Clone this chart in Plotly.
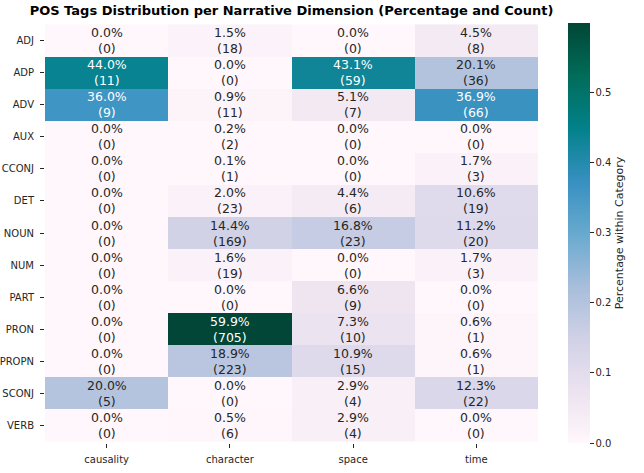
import plotly.graph_objects as go

tags = ["ADJ", "ADP", "ADV", "AUX", "CCONJ", "DET", "NOUN", "NUM", "PART", "PRON", "PROPN", "SCONJ", "VERB"]
dims = ["causality", "character", "space", "time"]

counts_causality = [0, 11, 9, 0, 0, 0, 0, 0, 0, 0, 0, 5, 0]
counts_character = [18, 0, 11, 2, 1, 23, 169, 19, 0, 705, 223, 0, 6]
counts_space = [0, 59, 7, 0, 0, 6, 23, 0, 9, 10, 15, 4, 4]
counts_time = [8, 36, 66, 0, 3, 19, 20, 3, 0, 1, 1, 22, 0]

cols = [counts_causality, counts_character, counts_space, counts_time]
pcts = [[c / sum(col) for c in col] for col in cols]

z = [[pcts[j][i] for j in range(len(dims))] for i in range(len(tags))]
cnt = [[cols[j][i] for j in range(len(dims))] for i in range(len(tags))]
zmax = max(max(r) for r in z)

colorscale = [
    [0.0, "#fff7fb"], [0.125, "#ece2f0"], [0.25, "#d0d1e6"], [0.375, "#a6bddb"],
    [0.5, "#67a9cf"], [0.625, "#3690c0"], [0.75, "#02818a"], [0.875, "#016c59"], [1.0, "#014636"],
]

fig = go.Figure(go.Heatmap(
    z=z, x=dims, y=tags, colorscale=colorscale, zmin=0, zmax=zmax,
    xgap=0, ygap=0, hoverinfo="skip",
    colorbar=dict(
        thickness=22, len=1.0, lenmode="fraction", x=1.061, xanchor="left", xpad=0,
        y=0.5, yanchor="middle", ypad=0,
        outlinewidth=0, ticks="outside", ticklen=4, tickwidth=1, tickcolor="#262626",
        tickvals=[0, 0.1, 0.2, 0.3, 0.4, 0.5], ticktext=["0.0", "0.1", "0.2", "0.3", "0.4", "0.5"],
        tickfont=dict(family="DejaVu Sans", size=10, color="#262626"),
        title=dict(text="Percentage within Category", side="right",
                   font=dict(family="DejaVu Sans", size=11, color="#262626")),
    ),
))

ann = []
for i, t in enumerate(tags):
    for j, d in enumerate(dims):
        v = z[i][j]
        col = "white" if v > 0.3 else "#262626"
        ann.append(dict(x=d, y=t, xref="x", yref="y", showarrow=False,
                        text=f"{v*100:.1f}%<br>({cnt[i][j]})",
                        font=dict(family="DejaVu Sans", size=12.5, color=col)))

fig.update_layout(
    width=644, height=473, margin=dict(l=45, r=106, t=23, b=30, autoexpand=False),
    paper_bgcolor="white", plot_bgcolor="white",
    annotations=ann,
    title=dict(text="<b>POS Tags Distribution per Narrative Dimension (Percentage and Count)</b>",
               x=0.5, xref="paper", xanchor="center", y=0.987, yanchor="top",
               font=dict(family="DejaVu Sans", size=13, color="black")),
    xaxis=dict(showgrid=False, zeroline=False, ticks="outside", ticklen=4, tickcolor="#262626",
               ticklabelstandoff=3,
               tickfont=dict(family="DejaVu Sans", size=10, color="#262626")),
    yaxis=dict(showgrid=False, zeroline=False, autorange="reversed", ticks="outside", ticklen=4,
               ticklabelstandoff=4,
               tickcolor="#262626", tickfont=dict(family="DejaVu Sans", size=10, color="#262626")),
)

fig.write_html("out.html")
